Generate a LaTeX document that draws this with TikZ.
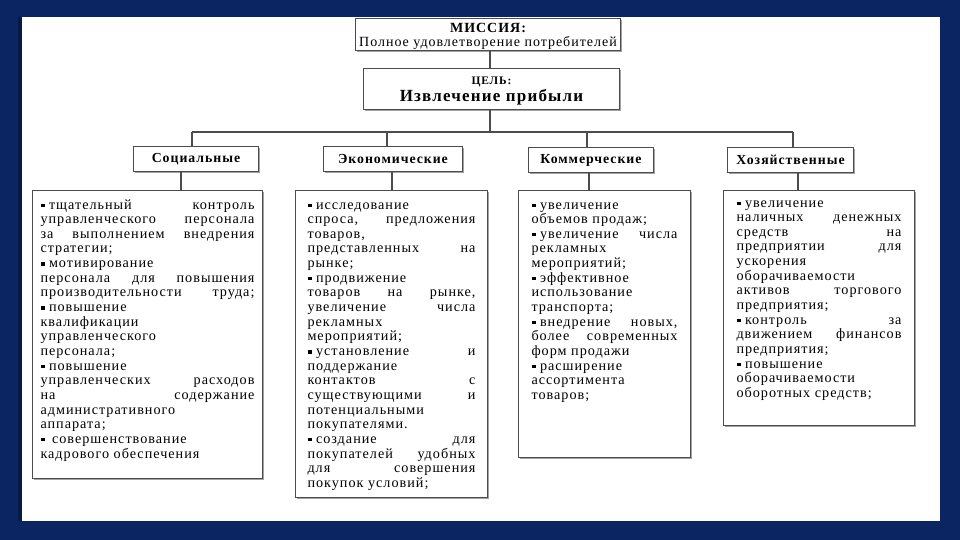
\documentclass[tikz,border=0pt]{standalone}
\usepackage{fontspec}
\setmainfont{Liberation Serif}[LetterSpace=7]
\usetikzlibrary{shadows}
\definecolor{navy}{HTML}{0B2563}
\definecolor{navydark}{HTML}{061A45}
\definecolor{edge}{gray}{0.3}
\newcommand\jst[1]{\makebox[\linewidth][s]{#1}}
\newcommand\bul{\raisebox{2pt}{\rule{4.5pt}{3.5pt}}\hspace{4pt}}
\newcommand\lst{\fontsize{14.2}{14.65}\selectfont}
\begin{document}
\begin{tikzpicture}[x=1pt,y=-1pt,
  box/.style={draw=edge, line width=1pt, fill=white,
    drop shadow={shadow xshift=1.5pt, shadow yshift=-1.5pt, fill=black!45, opacity=0.8}},
  conn/.style={draw=edge, line width=1.2pt},
  cat/.style={box, anchor=north west, minimum height=25pt, inner sep=0pt,
    font=\fontsize{13.8}{14}\selectfont\bfseries},
  content/.style={box, anchor=north west, inner ysep=0pt, font=\lst}
]
\useasboundingbox (0,0) rectangle (960,540);
\fill[navy] (0,0) rectangle (960,540);
\fill[navydark] (18,17) rectangle (22,521);
\fill[white] (22,17) rectangle (940,521);

% top boxes
\node[box, anchor=north west, minimum width=265pt, minimum height=30pt, inner sep=0pt, align=center] (mis) at (355,18)
  {\rule{0pt}{14pt}{\fontsize{14}{14}\selectfont\bfseries МИССИЯ:}\\[2.5pt]{\fontsize{14}{14}\selectfont Полное удовлетворение потребителей}};
\node[box, anchor=north west, minimum width=256pt, minimum height=41pt, inner sep=0pt, align=center] (goal) at (363,68)
  {\rule{0pt}{11pt}{\fontsize{11.5}{12}\selectfont\bfseries ЦЕЛЬ:}\\[1pt]{\fontsize{17}{17}\selectfont\bfseries Извлечение прибыли}};

% category boxes
\node[cat, minimum width=125pt] (s1) at (133,146) {Социальные};
\node[cat, minimum width=139pt] (s2) at (323,146) {Экономические};
\node[cat, minimum width=125pt] (s3) at (528,147) {Коммерческие};
\node[cat, minimum width=126pt] (s4) at (727,147) {Хозяйственные};

% content boxes
\node[content, inner xsep=8pt] (b1) at (32,190) {\parbox[t][288pt][t]{214pt}{%
\rule{0pt}{18.5pt}\jst{\bul тщательный контроль}\\
\jst{управленческого персонала}\\
\jst{за выполнением внедрения}\\
стратегии;\\
\bul мотивирование\\
\jst{персонала для повышения}\\
\jst{производительности труда;}\\
\bul повышение\\
квалификации\\
управленческого\\
персонала;\\
\bul повышение\\
\jst{управленческих расходов}\\
\jst{на содержание}\\
административного\\
аппарата;\\
\bul\hspace{3pt}совершенствование\\
кадрового обеспечения}};

\node[content, inner xsep=12pt] (b2) at (295,190) {\parbox[t][307pt][t]{168pt}{%
\rule{0pt}{18.5pt}\bul исследование\\
\jst{спроса, предложения}\\
товаров,\\
\jst{представленных на}\\
рынке;\\
\bul продвижение\\
\jst{товаров на рынке,}\\
\jst{увеличение числа}\\
рекламных\\
мероприятий;\\
\jst{\bul установление и}\\
поддержание\\
\jst{контактов с}\\
\jst{существующими и}\\
потенциальными\\
покупателями.\\
\jst{\bul создание для}\\
\jst{покупателей удобных}\\
\jst{для совершения}\\
покупок условий;}};

\node[content, inner xsep=13pt] (b3) at (518,190) {\parbox[t][267pt][t]{146pt}{%
\rule{0pt}{18.5pt}\bul увеличение\\
объемов продаж;\\
\jst{\bul увеличение числа}\\
рекламных\\
мероприятий;\\
\bul эффективное\\
использование\\
транспорта;\\
\jst{\bul внедрение новых,}\\
\jst{более современных}\\
форм продажи\\
\bul расширение\\
ассортимента\\
товаров;}};

\node[content, inner xsep=13pt] (b4) at (723,190) {\parbox[t][235pt][t]{165pt}{%
\rule{0pt}{16.5pt}\bul увеличение\\
\jst{наличных денежных}\\
\jst{средств на}\\
\jst{предприятии для}\\
ускорения\\
оборачиваемости\\
\jst{активов торгового}\\
предприятия;\\
\jst{\bul контроль за}\\
\jst{движением финансов}\\
предприятия;\\
\bul повышение\\
оборачиваемости\\
оборотных средств;}};

% connectors
\coordinate (m1) at (490,0);
\coordinate (busL) at (192,132);
\coordinate (busR) at (793,132);
\coordinate (u1) at (192,132);
\coordinate (u2) at (387,132);
\coordinate (u3) at (587,132);
\coordinate (u4) at (793,132);
\coordinate (d1) at (181,0);
\coordinate (d2) at (392,0);
\coordinate (d3) at (589,0);
\coordinate (d4) at (798,0);
\draw[conn] (mis.south -| m1) -- (goal.north -| m1);
\draw[conn] (goal.south -| m1) -- (m1 |- busL);
\draw[conn] (busL) -- (busR);
\draw[conn] (u1) -- (u1 |- s1.north);
\draw[conn] (u2) -- (u2 |- s2.north);
\draw[conn] (u3) -- (u3 |- s3.north);
\draw[conn] (u4) -- (u4 |- s4.north);
\draw[conn] (s1.south -| d1) -- (b1.north -| d1);
\draw[conn] (s2.south -| d2) -- (b2.north -| d2);
\draw[conn] (s3.south -| d3) -- (b3.north -| d3);
\draw[conn] (s4.south -| d4) -- (b4.north -| d4);
\end{tikzpicture}
\end{document}
